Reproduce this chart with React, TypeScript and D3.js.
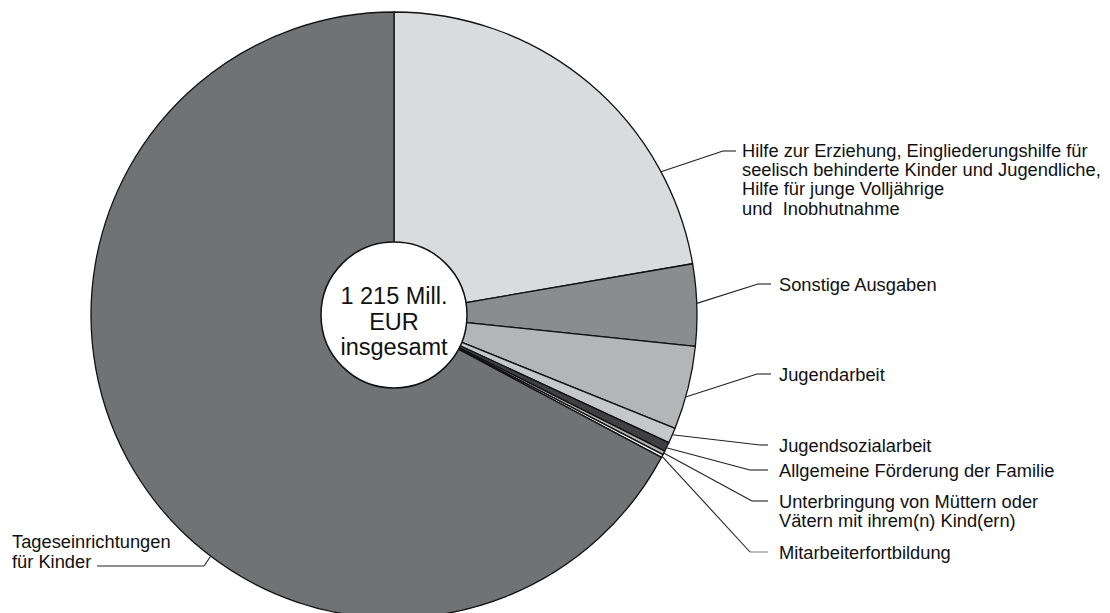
import React from 'react';
import * as d3 from 'd3';

// Ausgaben der Kinder- und Jugendhilfe, Mill. EUR (insgesamt 1 215)
const categories = [
  'Hilfe zur Erziehung',
  'Sonstige Ausgaben',
  'Jugendarbeit',
  'Jugendsozialarbeit',
  'Allgemeine Förderung der Familie',
  'Unterbringung von Müttern oder Vätern',
  'Mitarbeiterfortbildung',
  'Tageseinrichtungen für Kinder',
];
const values = [271, 53, 54, 10, 6, 2.5, 2, 817];
const colors = ['#dadbdd', '#8b8c8e', '#b4b5b7', '#c6c7c9', '#404043', '#b3b3b3', '#f6f6f6', '#717274'];

const labelLines = [
  ['Hilfe zur Erziehung, Eingliederungshilfe für', 'seelisch behinderte Kinder und Jugendliche,', 'Hilfe für junge Volljährige', 'und  Inobhutnahme'],
  ['Sonstige Ausgaben'],
  ['Jugendarbeit'],
  ['Jugendsozialarbeit'],
  ['Allgemeine Förderung der Familie'],
  ['Unterbringung von Müttern oder', 'Vätern mit ihrem(n) Kind(ern)'],
  ['Mitarbeiterfortbildung'],
  ['Tageseinrichtungen', 'für Kinder'],
];
const centerText = ['1 215 Mill.', 'EUR', 'insgesamt'];

// leader layout: t = position inside slice, elbow point, end of horizontal, text x
const leaders = [
  { t: 0.77, ex: 723, ey: 151, hx: 736, tx: 742 },
  { t: 0.48, ex: 758, ey: 284, hx: 771, tx: 779 },
  { t: 0.61, ex: 757, ey: 374, hx: 771, tx: 779 },
  { t: 0.45, ex: 760, ey: 445, hx: 768, tx: 779 },
  { t: 0.6, ex: 750, ey: 470, hx: 768, tx: 779 },
  { t: 0.55, ex: 752, ey: 501, hx: 768, tx: 779 },
  { t: 0.6, ex: 750, ey: 552, hx: 768, tx: 779 },
  { t: 0.41, ex: 204, ey: 566, hx: 97, tx: 12 },
];

const W = 1110;
const H = 613;
const CX = 394;
const CY = 315;
const R = 303;
const FONT = '"Liberation Sans", Arial, Helvetica, sans-serif';
const FS = 18.3;

export default function App() {
  const pie = d3.pie<number>().sort(null).value((d) => d);
  const arcs = pie(values);
  const arc = d3.arc<d3.PieArcDatum<number>>().innerRadius(0).outerRadius(R);

  return (
    <div style={{ position: 'absolute', left: 0, top: 0, width: W, height: H, background: '#fff' }}>
      <svg width={W} height={H} style={{ display: 'block', fontFamily: FONT }}>
        <g transform={`translate(${CX},${CY})`}>
          {arcs.map((a, i) => (
            <path key={categories[i]} d={arc(a) ?? ''} fill={colors[i]} stroke="#111" strokeWidth={1.3} strokeLinejoin="round" />
          ))}
          <circle r={73} fill="#fff" stroke="#111" strokeWidth={1.5} />
          {centerText.map((s, i) => (
            <text key={s} x={0} y={-11 + i * 25.5} textAnchor="middle" fontSize={23.5} fill="#111">
              {s}
            </text>
          ))}
        </g>

        {/* leader lines and labels */}
        {arcs.map((a, i) => {
          const L = leaders[i];
          const ang = a.startAngle + (a.endAngle - a.startAngle) * L.t;
          const sx = CX + Math.sin(ang) * R;
          const sy = CY - Math.cos(ang) * R;
          const left = L.hx < L.ex;
          const lines = labelLines[i];
          // text baseline: single lines centred on the leader, Hilfe block starts at it, Tages ends at it
          let y0 = L.ey + 6.5;
          if (i === 0) y0 = L.ey + 6;
          if (left) y0 = L.ey + 2 - (lines.length - 1) * 20;
          const lh = left ? 20 : i === 5 ? 19.5 : 19.2;
          return (
            <g key={'lab' + i}>
              <line x1={sx} y1={sy} x2={L.ex} y2={L.ey} stroke="#222" strokeWidth={1.1} />
              <line x1={L.ex} y1={L.ey} x2={L.hx} y2={L.ey} stroke={i === 6 ? '#888' : '#222'} strokeWidth={1.1} />
              {lines.map((s, k) => (
                <text key={k} x={L.tx} y={y0 + k * lh} fontSize={FS} fill="#111" style={{ whiteSpace: 'pre' }}>
                  {s}
                </text>
              ))}
            </g>
          );
        })}
      </svg>
    </div>
  );
}
